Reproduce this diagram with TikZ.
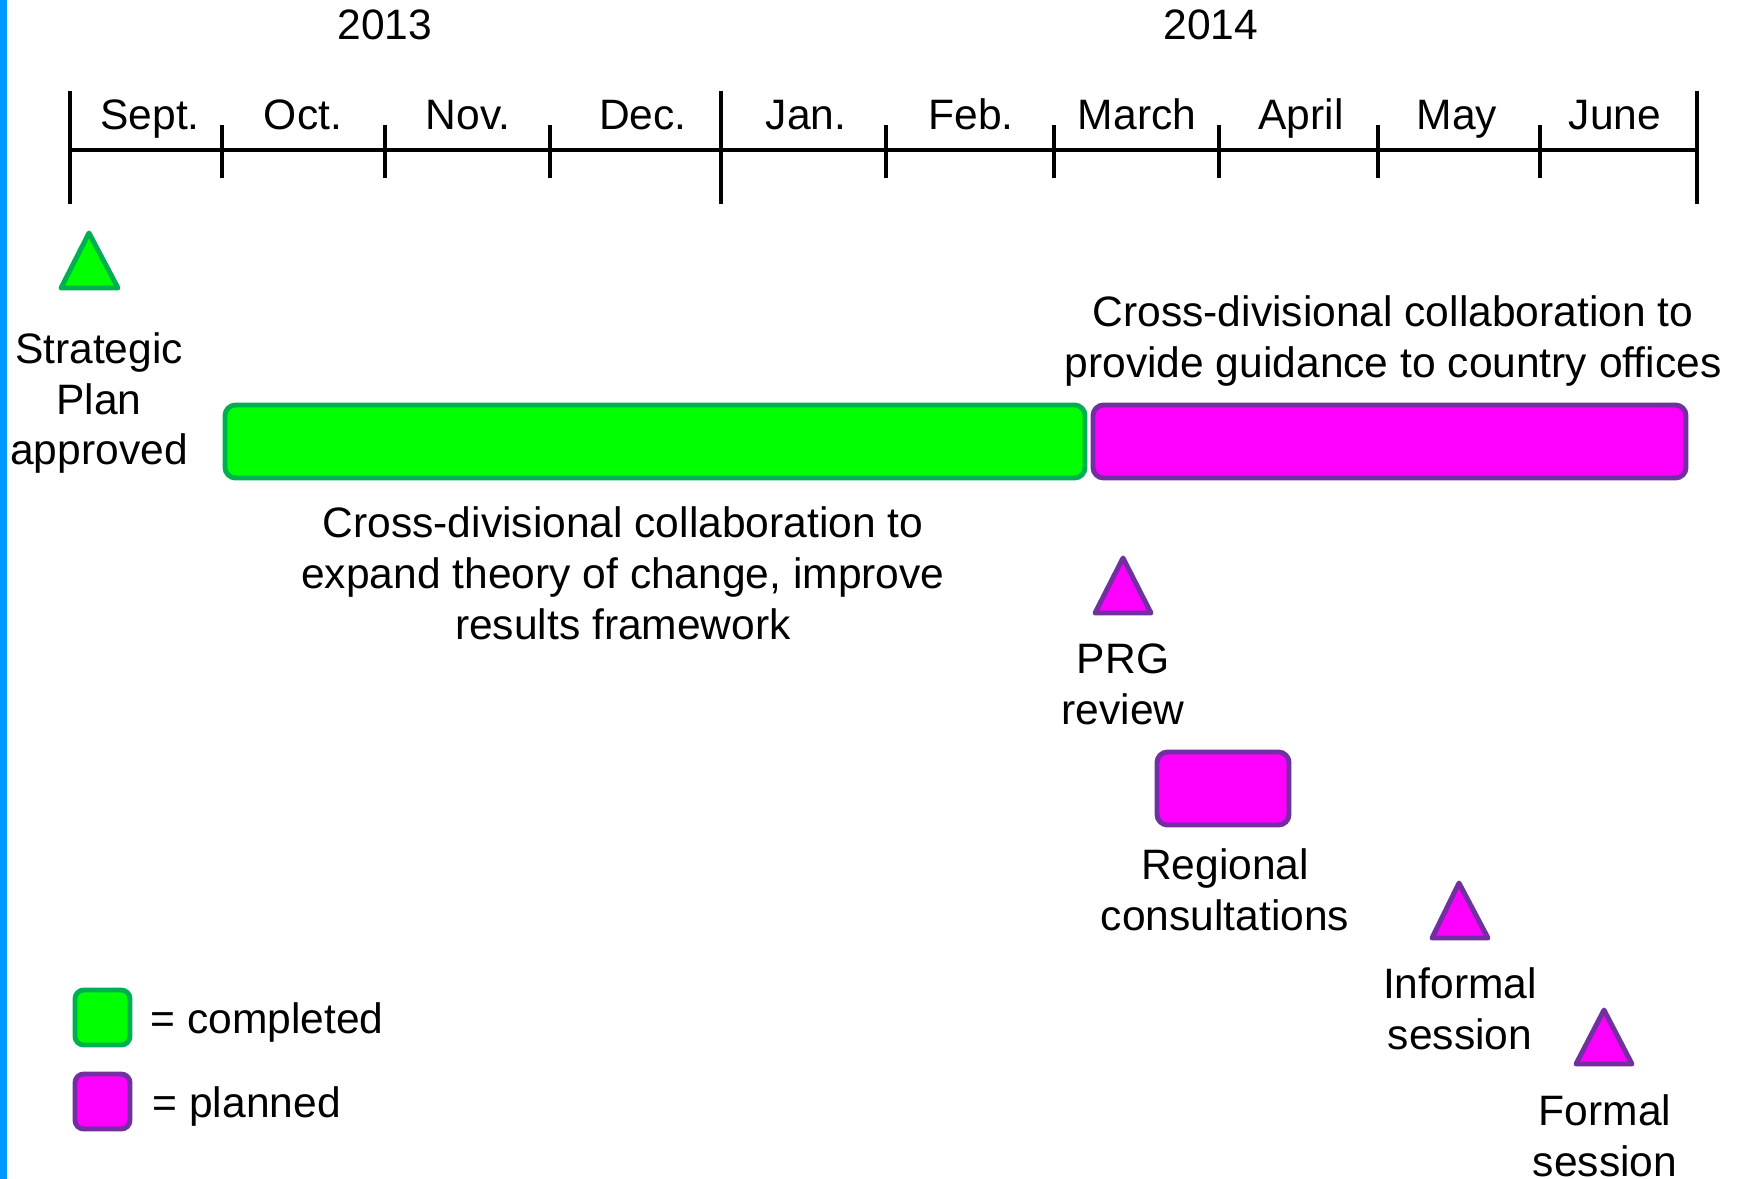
\documentclass[tikz,border=0pt]{standalone}
\usepackage{fontspec}
\setmainfont{Liberation Sans}
\usepackage{tikz}

\definecolor{donegreen}{RGB}{0,255,0}
\definecolor{donerim}{RGB}{0,176,80}
\definecolor{planpink}{RGB}{255,0,255}
\definecolor{planrim}{RGB}{112,48,160}
\definecolor{sidebar}{RGB}{0,153,255}

\tikzset{
  txt/.style={font=\fontsize{12.1}{14.5}\selectfont, align=center, inner sep=0pt},
  done/.style={fill=donegreen, draw=donerim, line width=1.4pt, line join=round},
  planned/.style={fill=planpink, draw=planrim, line width=1.4pt, line join=round},
  axis/.style={line width=1.3pt},
}

\begin{document}
\begin{tikzpicture}[x=0.01cm, y=-0.01cm]
  \useasboundingbox (0,0) rectangle (1745,1179);
  \clip (0,0) rectangle (1745,1179);
  \fill[sidebar] (0,0) rectangle (7,1179);

  % Time axis
  \draw[axis] (70,150) -- (1697,150);
  \foreach \x in {70,721,1697} \draw[axis] (\x,91) -- (\x,204);
  \foreach \x in {222,385,550,886,1054,1219,1378,1540} \draw[axis] (\x,125) -- (\x,178);

  % Months and years
  \foreach \x/\m [count=\i] in {150/Sept., 303/Oct., 468/Nov., 643/Dec., 806/Jan.,
      971/Feb., 1137/March, 1301/April, 1457/May, 1615/June}
    \node[txt, anchor=base] (month\i) at (\x,130) {\m};
  \node[txt, anchor=base] (y2013) at (385,40) {2013};
  \node[txt, anchor=base] (y2014) at (1211,40) {2014};

  % Strategic plan milestone
  \draw[done] (61,288) -- (89,233) -- (118,288) -- cycle;
  \node[txt] (plan) at (99,403) {Strategic\\Plan\\approved};

  % Collaboration bars
  \draw[done, rounded corners=3pt] (225,405) rectangle (1085,478);
  \draw[planned, rounded corners=3pt] (1093,405) rectangle (1686,478);
  \node[txt] (guidance) at (1393,341) {Cross-divisional collaboration to\\provide guidance to country offices};
  \node[txt] (theory) at (623,573) {Cross-divisional collaboration to\\expand theory of change, improve\\results framework};

  % Planned milestones
  \draw[planned] (1095,613) -- (1123,558) -- (1151,613) -- cycle;
  \node[txt] (prg) at (1123,684) {PRG\\review};
  \draw[planned, rounded corners=3pt] (1157,752) rectangle (1289,825);
  \node[txt] (regional) at (1225,890) {Regional\\consultations};
  \draw[planned] (1432,938) -- (1459,883) -- (1488,938) -- cycle;
  \node[txt] (informal) at (1460,1009) {Informal\\session};
  \draw[planned] (1576,1064) -- (1604,1010) -- (1632,1064) -- cycle;
  \node[txt] (formal) at (1605,1136) {Formal\\session};

  % Legend
  \draw[done, rounded corners=2.5pt] (75,990) rectangle (130,1045);
  \node[txt, anchor=west] (lgdone) at (150,1022) {= completed};
  \draw[planned, rounded corners=2.5pt] (75,1074) rectangle (130,1129);
  \node[txt, anchor=west] (lgplan) at (152,1106) {= planned};
\end{tikzpicture}
\end{document}
